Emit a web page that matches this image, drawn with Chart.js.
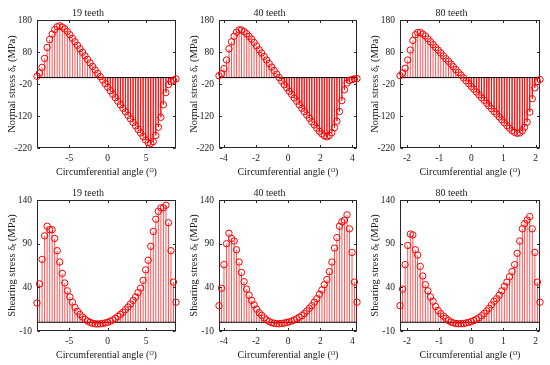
<!DOCTYPE html>
<html><head><meta charset="utf-8">
<script src="https://cdn.jsdelivr.net/npm/chart.js@4.4.0/dist/chart.umd.min.js"></script>
<style>
html,body{margin:0;padding:0;background:#fff;}
body{width:550px;height:365px;position:relative;overflow:hidden;}
canvas{position:absolute;}
</style></head><body>
<script>
// ---------- data ----------
const titles = ['19 teeth', '40 teeth', '80 teeth'];
const angle19 = [-9.20,-8.87,-8.54,-8.21,-7.88,-7.55,-7.23,-6.90,-6.57,-6.24,
  -5.91,-5.58,-5.25,-4.92,-4.59,-4.26,-3.93,-3.61,-3.28,-2.95,
  -2.62,-2.29,-1.96,-1.63,-1.30,-0.97,-0.64,-0.31,0.01,0.34,
  0.67,1.00,1.33,1.66,1.99,2.32,2.65,2.98,3.31,3.64,
  3.96,4.29,4.62,4.95,5.28,5.61,5.94,6.27,6.60,6.93,
  7.26,7.59,7.92,8.24,8.57,8.90];
const angle40 = [-4.30,-4.14,-3.99,-3.83,-3.68,-3.52,-3.36,-3.21,-3.05,-2.90,
  -2.74,-2.58,-2.43,-2.27,-2.12,-1.96,-1.80,-1.65,-1.49,-1.34,
  -1.18,-1.02,-0.87,-0.71,-0.56,-0.40,-0.24,-0.09,0.07,0.22,
  0.38,0.54,0.69,0.85,1.00,1.16,1.32,1.47,1.63,1.78,
  1.94,2.10,2.25,2.41,2.56,2.72,2.88,3.03,3.19,3.34,
  3.50,3.66,3.81,3.97,4.12,4.28];
const angle80 = [-2.22,-2.14,-2.06,-1.98,-1.90,-1.82,-1.74,-1.67,-1.59,-1.51,
  -1.43,-1.35,-1.27,-1.19,-1.11,-1.03,-0.95,-0.87,-0.79,-0.71,
  -0.63,-0.56,-0.48,-0.40,-0.32,-0.24,-0.16,-0.08,0.00,0.08,
  0.16,0.24,0.32,0.40,0.48,0.55,0.63,0.71,0.79,0.87,
  0.95,1.03,1.11,1.19,1.27,1.35,1.43,1.51,1.59,1.66,
  1.74,1.82,1.90,1.98,2.06,2.14];

const normal19 = [4,14,32,60,94,119,136,150,159,162,
  158,152,144,134,123,112,101,90,79,68,
  57,46,35,24,13,3,-8,-19,-30,-41,
  -52,-63,-74,-85,-96,-107,-118,-129,-140,-151,
  -162,-173,-184,-195,-203,-206,-200,-181,-155,-124,
  -85,-47,-22,-12,-8,-4];
const normal40 = [6,12,28,55,90,112,129,142,149,149,
  144,137,129,120,110,99,87,77,66,55,
  44,33,22,11,0,-11,-22,-32,-43,-53,
  -64,-74,-85,-96,-106,-117,-127,-138,-148,-158,
  -168,-176,-182,-185,-181,-172,-156,-136,-106,-72,
  -38,-17,-9,-6,-4,-3];
const normal80 = [6,14,29,55,86,116,134,141,141,136,
  130,121,112,103,94,86,77,68,59,51,
  42,34,25,16,8,-1,-10,-19,-28,-36,
  -45,-54,-63,-71,-80,-88,-97,-106,-114,-123,
  -132,-141,-150,-158,-166,-171,-174,-173,-166,-155,
  -139,-108,-66,-32,-12,-6];

const shear19 = [22,44,72,99,110,106,106,96,82,69,
  56,45,36,29,23,17,12.5,9,6,3.5,
  1.3,-0.1,-1.2,-1.8,-2,-1.8,-1.4,-0.8,0,1.2,
  2.7,4.5,6.7,9,11.5,14.5,17.5,21,25,29,
  34,39,48,60,71,87,104,118,127,131,
  131,134,114,82,46,23];
const shear40 = [19,39,66,90,102,96,93,83,69,57,
  46.5,38,31,25,20,15,11,8,5,2.7,
  0.8,-0.5,-1.2,-1.6,-1.7,-1.3,-0.9,-0.2,0.5,1.4,
  2.6,4,5.8,7.6,10,13,16,19,23,27,
  32,37,43,49,58,69,85,97,110,115,
  117,123,107,80,46,23];
const shear80 = [19,38,66,88,101,100,83,77,64,53,
  43,36,29,24,18,13.5,10,7,4.5,2,
  0.3,-0.8,-1.4,-1.7,-1.7,-1.4,-0.8,-0.2,0.8,2,
  3.5,5.3,7.5,10,13,16,20,24,27,31,
  36,41,46,52,58,66,79,93,107,113,
  117,121,107,80,46,23];

const xTicks19 = [-5, 0, 5];
const xTicks40 = [-4, -2, 0, 2, 4];
const xTicks80 = [-2, -1, 0, 1, 2];
const normalTicks = [-220, -120, -20, 80, 180];
const shearTicks = [-10, 40, 90, 140];
const normalLabel = 'Normal stress δᵣ (MPa)';
const shearLabel = 'Shearing stress δₜ (MPa)';
const xLabel = 'Circumferential angle (ᴼ)';

// ---------- layout ----------
const panels = [
  {x: angle19, y: normal19, t: titles[0], xt: xTicks19, yt: normalTicks, yl: normalLabel, box: [37, 20, 176, 148]},
  {x: angle40, y: normal40, t: titles[1], xt: xTicks40, yt: normalTicks, yl: normalLabel, box: [219, 20, 357, 148]},
  {x: angle80, y: normal80, t: titles[2], xt: xTicks80, yt: normalTicks, yl: normalLabel, box: [400, 20, 540, 148]},
  {x: angle19, y: shear19, t: titles[0], xt: xTicks19, yt: shearTicks, yl: shearLabel, box: [37, 200, 176, 331]},
  {x: angle40, y: shear40, t: titles[1], xt: xTicks40, yt: shearTicks, yl: shearLabel, box: [219, 200, 357, 331]},
  {x: angle80, y: shear80, t: titles[2], xt: xTicks80, yt: shearTicks, yl: shearLabel, box: [400, 200, 540, 331]}
];

const YW = 37, XH = 34, TH = 20, PR = 6;
const FONT = 'Liberation Serif, Times New Roman, serif';
const TXT = '#1a1a1a';

const boxPlugin = {
  id: 'box',
  beforeDatasetsDraw(chart) {
    const {ctx, chartArea: a, scales: {x, y}} = chart;
    ctx.save();
    ctx.strokeStyle = '#262626';
    ctx.lineWidth = 1;
    const L = Math.round(a.left) + 0.5, R = Math.round(a.right) - 0.5;
    const T = Math.round(a.top) + 0.5, B = Math.round(a.bottom) - 0.5;
    ctx.strokeRect(L, T, R - L, B - T);
    ctx.beginPath();
    x.ticks.forEach(t => {
      const p = Math.round(x.getPixelForValue(t.value)) + 0.5;
      ctx.moveTo(p, B); ctx.lineTo(p, B - 2.5);
      ctx.moveTo(p, T); ctx.lineTo(p, T + 2.5);
    });
    y.ticks.forEach(t => {
      const p = Math.round(y.getPixelForValue(t.value)) + 0.5;
      ctx.moveTo(L, p); ctx.lineTo(L + 2.5, p);
      ctx.moveTo(R, p); ctx.lineTo(R - 2.5, p);
    });
    ctx.stroke();
    ctx.restore();
  }
};

panels.forEach(p => {
  const [l, t, r, b] = p.box;
  const cv = document.createElement('canvas');
  const w = r - l + YW + PR, h = b - t + TH + XH;
  cv.width = w; cv.height = h;
  cv.style.left = (l - YW) + 'px';
  cv.style.top = (t - TH) + 'px';
  cv.style.width = w + 'px'; cv.style.height = h + 'px';
  document.body.appendChild(cv);

  const xmin = p.x[0], xmax = p.x[p.x.length - 1];
  const pts = p.x.map((v, i) => ({x: v, y: p.y[i]}));
  const stems = [];
  p.x.forEach((v, i) => { stems.push({x: v, y: 0}, {x: v, y: p.y[i]}, {x: v, y: null}); });

  new Chart(cv, {
    type: 'scatter',
    data: {
      datasets: [
        {type: 'scatter', data: pts, pointStyle: 'circle', pointRadius: 3.2, pointHoverRadius: 3.2,
         borderColor: '#ff0000', backgroundColor: 'rgba(0,0,0,0)', borderWidth: 1, clip: false, order: 0},
        {type: 'line', data: [{x: xmin, y: 0}, {x: xmax, y: 0}], borderColor: '#000000',
         borderWidth: 1, pointRadius: 0, order: 1},
        {type: 'line', data: stems, borderColor: 'rgba(255,0,0,0.85)', borderWidth: 0.8, pointRadius: 0,
         spanGaps: false, order: 2}
      ]
    },
    options: {
      responsive: false, animation: false, devicePixelRatio: 1,
      layout: {padding: {left: 0, right: PR, top: 0, bottom: 0}},
      plugins: {
        legend: {display: false}, tooltip: {enabled: false},
        title: {display: true, text: p.t, color: TXT, font: {family: FONT, size: 10, weight: 'normal'},
                padding: {top: 7, bottom: 1}}
      },
      scales: {
        x: {
          type: 'linear', min: xmin, max: xmax, offset: false,
          grid: {display: false, drawTicks: false}, border: {display: false},
          ticks: {color: TXT, font: {family: FONT, size: 9.5}, padding: 5, maxRotation: 0, autoSkip: false},
          afterBuildTicks: s => { s.ticks = p.xt.map(v => ({value: v})); },
          afterFit: s => { s.height = XH; },
          title: {display: true, text: xLabel, color: TXT, font: {family: FONT, size: 10},
                  padding: {top: 0, bottom: 4}}
        },
        y: {
          type: 'linear', min: p.yt[0], max: p.yt[p.yt.length - 1],
          grid: {display: false, drawTicks: false}, border: {display: false},
          ticks: {color: TXT, font: {family: FONT, size: 9.5}, padding: 5, autoSkip: false},
          afterBuildTicks: s => { s.ticks = p.yt.map(v => ({value: v})); },
          afterFit: s => { s.width = YW; },
          title: {display: true, text: p.yl, color: TXT, font: {family: FONT, size: 10.5},
                  padding: {top: 6, bottom: 0}}
        }
      }
    },
    plugins: [boxPlugin]
  });
});
</script>
</body></html>
